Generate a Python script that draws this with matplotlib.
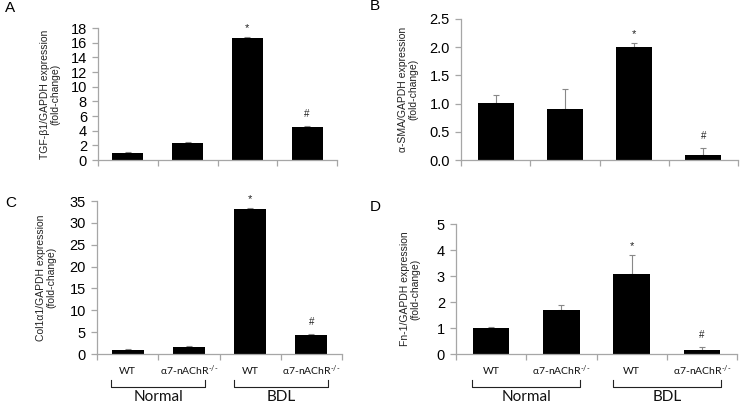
import matplotlib
matplotlib.use("Agg")
import matplotlib.pyplot as plt
import matplotlib.transforms as mtransforms
from matplotlib.lines import Line2D

plt.rcParams['font.family'] = ['Liberation Sans', 'DejaVu Sans']
plt.rcParams['mathtext.fontset'] = 'custom'
plt.rcParams['mathtext.rm'] = 'Lato'
plt.rcParams['mathtext.it'] = 'Lato'

# ---------------- data ----------------
categories = ["WT", r"α7-nAChR$^{\text{-/-}}$", "WT", r"α7-nAChR$^{\text{-/-}}$"]
groups = ["Normal", "BDL"]

tgf_values = [0.95, 2.3, 16.65, 4.55]
tgf_errors = [0.08, 0.1, 0.1, 0.12]
sma_values = [1.01, 0.90, 2.00, 0.09]
sma_errors = [0.14, 0.36, 0.07, 0.12]
col_values = [0.92, 1.7, 33.2, 4.3]
col_errors = [0.25, 0.2, 0.2, 0.2]
fn_values = [1.0, 1.7, 3.09, 0.15]
fn_errors = [0.05, 0.18, 0.72, 0.12]

marks = ["", "", "*", "#"]

W, H = 740, 405
fig = plt.figure(figsize=(7.4, 4.05), dpi=100)

def px_axes(l, r, b, t):
    return fig.add_axes([l / W, (H - b) / H, (r - l) / W, (b - t) / H])

panels = [
    dict(box=(98, 337, 160, 28), vals=tgf_values, errs=tgf_errors, ylim=(0, 18), step=2,
         fmt="{:.0f}", ylabel="TGF-β1/GAPDH expression\n(fold-change)", letter="A",
         letter_xy=(5, 8), lab_x=50, cats=False),
    dict(box=(461, 738, 160, 19), vals=sma_values, errs=sma_errors, ylim=(0, 2.5), step=0.5,
         fmt="{:.1f}", ylabel="α-SMA/GAPDH expression\n(fold-change)", letter="B",
         letter_xy=(370, 6), lab_x=408, cats=False),
    dict(box=(97, 342, 354, 201), vals=col_values, errs=col_errors, ylim=(0, 35), step=5,
         fmt="{:.0f}", ylabel="Col1α1/GAPDH expression\n(fold-change)", letter="C",
         letter_xy=(5, 203), lab_x=46, cats=True),
    dict(box=(456, 737, 354, 224), vals=fn_values, errs=fn_errors, ylim=(0, 5), step=1,
         fmt="{:.0f}", ylabel="Fn-1/GAPDH expression\n(fold-change)", letter="D",
         letter_xy=(370, 207), lab_x=410, cats=True),
]

spine_col = "#a6a6a6"
for p in panels:
    l, r, b, t = p["box"]
    ax = px_axes(l, r, b, t)
    x = list(range(len(p["vals"])))
    ax.bar(x, p["vals"], width=0.52, color="black", zorder=2)
    ax.errorbar(x, p["vals"], yerr=[[0] * len(x), p["errs"]], fmt="none",
                ecolor="#888888", elinewidth=0.8, capsize=2.5, capthick=0.8, zorder=1)
    for xi, v, e, m in zip(x, p["vals"], p["errs"], marks):
        if m == "*":
            ax.annotate(m, (xi, v + e), xytext=(0, 3), textcoords="offset points",
                        ha="center", va="bottom", fontsize=8, color="#222222")
        elif m == "#":
            ax.annotate(m, (xi, v + e), xytext=(0, 5), textcoords="offset points",
                        ha="center", va="bottom", fontsize=7, color="#222222")
    ax.set_xlim(-0.5, 3.5)
    ax.set_ylim(*p["ylim"])
    n = int(round(p["ylim"][1] / p["step"]))
    yt = [i * p["step"] for i in range(n + 1)]
    ax.set_yticks(yt)
    ax.set_yticklabels([p["fmt"].format(v) for v in yt], fontsize=10.5)
    ax.set_xticks([-0.5, 0.5, 1.5, 2.5, 3.5])
    ax.set_xticklabels([])
    for s in ["top", "right"]:
        ax.spines[s].set_visible(False)
    for s in ["left", "bottom"]:
        ax.spines[s].set_color(spine_col)
        ax.spines[s].set_linewidth(0.9)
    ax.tick_params(axis="both", color=spine_col, length=4, width=0.9, direction="out")
    ax.tick_params(axis="y", pad=4)
    # ylabel
    fig.text(p["lab_x"] / W, (H - (b + t) / 2) / H, p["ylabel"], rotation=90,
             ha="center", va="center", fontsize=7.5, linespacing=1.1, color="#222222")
    fig.text(p["letter_xy"][0] / W, (H - p["letter_xy"][1]) / H, p["letter"],
             ha="left", va="center", fontsize=11)
    if p["cats"]:
        trans = mtransforms.blended_transform_factory(ax.transData, fig.transFigure)
        for xi, c in zip(x, categories):
            ax.text(xi, (H - 371) / H, c, transform=trans, ha="center", va="center",
                    fontsize=7.5, family=["Lato", "DejaVu Sans"], color="#111111")
        for gi, g in enumerate(groups):
            x0 = 2 * gi - 0.27
            x1 = 2 * gi + 1 + 0.27
            yb = (H - 387) / H
            yt_ = (H - 380) / H
            ax.add_line(Line2D([x0, x0, x1, x1], [yt_, yb, yb, yt_], transform=trans,
                               color="#222222", lw=0.8, clip_on=False))
            ax.text(2 * gi + 0.5, (H - 397) / H, g, transform=trans, ha="center", va="center",
                    fontsize=11, family=["Lato", "DejaVu Sans"], color="#111111")

fig.savefig("out.png", dpi=100)
